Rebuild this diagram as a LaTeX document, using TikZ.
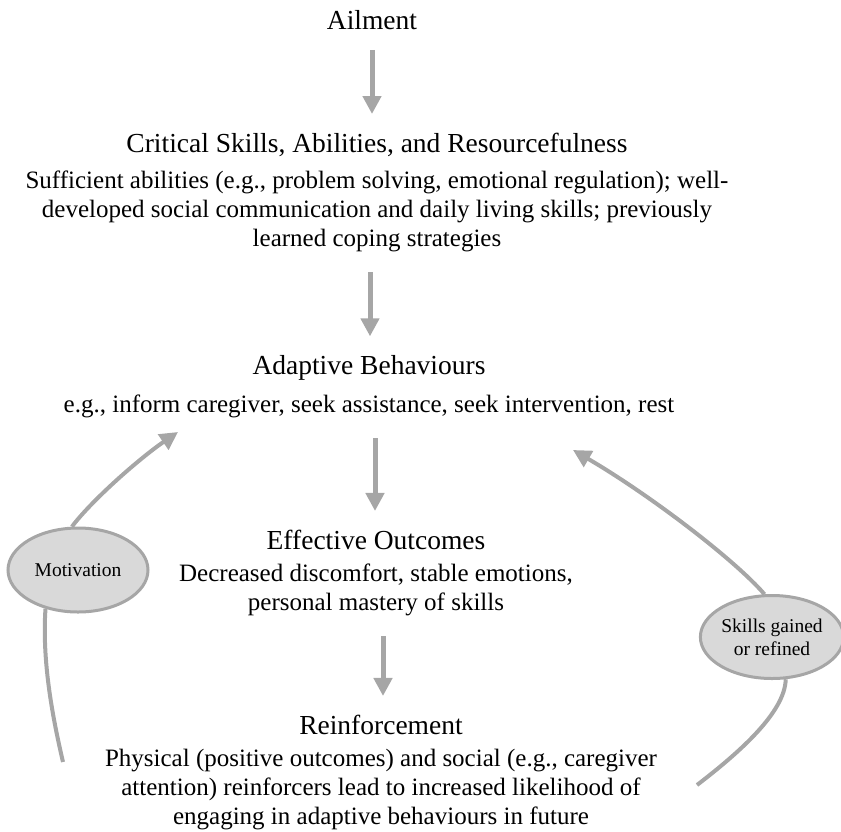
\documentclass[tikz,border=0pt]{standalone}
\usepackage{fontspec}
\setmainfont{Liberation Serif}
\usetikzlibrary{shapes,arrows.meta,positioning}
\definecolor{arrgray}{HTML}{A6A6A6}
\definecolor{tagfill}{HTML}{D9D9D9}

\begin{document}
\begin{tikzpicture}[x=1pt, y=-1pt, node distance=14pt]
        % Define block styles
        \tikzstyle{heading} = [inner sep=0pt, font=\fontsize{27.5}{30}\selectfont]
        \tikzstyle{bodytext} = [inner sep=0pt, align=center, font=\fontsize{25}{29}\selectfont]
        \tikzstyle{tagnode} = [ellipse, draw=arrgray, line width=3pt, fill=tagfill, inner sep=0pt, align=center, font=\fontsize{19.5}{23}\selectfont]
        \tikzstyle{flowline} = [draw=arrgray, line width=5pt, -{Triangle[width=18pt, length=18pt]}, shorten <=20pt, shorten >=19pt]
        \tikzstyle{cycleline} = [draw=arrgray, line width=4pt]

        \useasboundingbox (0,0) rectangle (841,831);

        % Define nodes
        \node [heading] (ail) at (372,20) {Ailment};
        \node [heading] (crithead) at (377,145) {Critical Skills, Abilities, and Resourcefulness};
        \node [bodytext, below=of crithead] (critbody) {Sufficient abilities (e.g., problem solving, emotional regulation); well-\\developed social communication and daily living skills; previously\\learned coping strategies};
        \node [heading] (adaphead) at (369,368) {Adaptive Behaviours};
        \node [bodytext, below=of adaphead] (adapbody) {e.g., inform caregiver, seek assistance, seek intervention, rest};
        \node [heading] (effhead) at (376,540) {Effective Outcomes};
        \node [bodytext, below=of effhead] (effbody) {Decreased discomfort, stable emotions,\\personal mastery of skills};
        \node [heading] (reinhead) at (381,725) {Reinforcement};
        \node [bodytext, below=of reinhead] (reinbody) {Physical (positive outcomes) and social (e.g., caregiver\\attention) reinforcers lead to increased likelihood of\\engaging in adaptive behaviours in future};
        \node [tagnode, minimum width=140pt, minimum height=84pt] (mot) at (78,570) {Motivation};
        \node [tagnode, minimum width=135pt, minimum height=83pt] (skl) at (772,637) {Skills gained\\or refined};
        \coordinate (lstart) at (63,762);
        \coordinate (ltip) at (178,432);
        \coordinate (rstart) at (697,785);
        \coordinate (rtip) at (573,450);

        % Connect nodes with paths
        \draw[flowline] (ail.south) -- (ail.south |- crithead.north);
        \draw[flowline] (critbody.south -| 370,0) -- (370,0 |- adaphead.north);
        \draw[flowline] (adapbody.south -| 375,0) -- (375,0 |- effhead.north);
        \draw[flowline] (effbody.south -| 383,0) -- (383,0 |- reinhead.north);
        \draw[cycleline] (lstart) .. controls (52,715) and (42,660) .. (mot.230);
        \draw[cycleline, -{Triangle[width=18pt, length=18pt]}] (mot.98) .. controls (92,500) and (140,458) .. (ltip);
        \draw[cycleline] (rstart) .. controls (740,752) and (785,712) .. (skl.288);
        \draw[cycleline, -{Triangle[width=18pt, length=18pt]}] (skl.100) .. controls (735,560) and (650,495) .. (rtip);

    \end{tikzpicture}
\end{document}
